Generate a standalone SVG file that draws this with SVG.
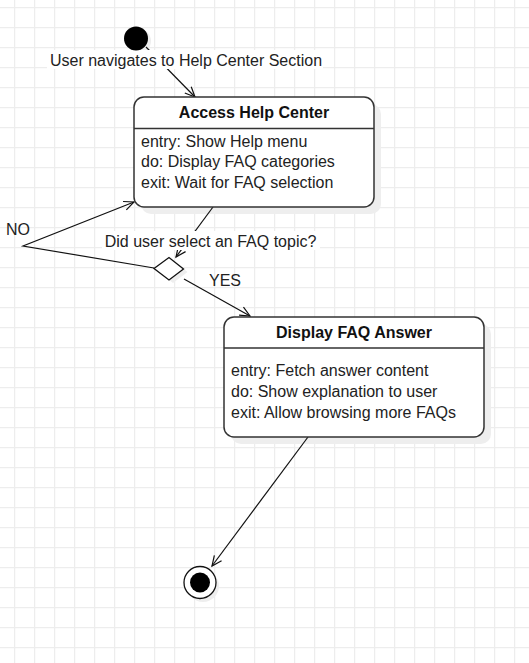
<svg xmlns="http://www.w3.org/2000/svg" width="529" height="663" viewBox="0 0 529 663">
<defs>
<pattern id="grid" x="14" y="7" width="20" height="20" patternUnits="userSpaceOnUse">
<path d="M0.5 0V20M0 0.5H20" stroke="#ededed" stroke-width="1.5" fill="none"/>
</pattern>
<marker id="arr" markerWidth="14" markerHeight="14" refX="12" refY="7" orient="auto" markerUnits="userSpaceOnUse">
<path d="M2 2.5L12 7L2 11.5" fill="none" stroke="#111" stroke-width="1.2"/>
</marker>
</defs>
<style>
.t{font-family:"Liberation Sans",Arial,sans-serif;font-size:16px;fill:#222}
.b{font-weight:bold;fill:#111}
.box{fill:#fff;stroke:#333;stroke-width:1.5}
.sh{fill:#eeeeee}
.c{fill:none;stroke:#111;stroke-width:1.2}
.bg{fill:#fff}
</style>
<rect width="529" height="663" fill="#fff"/>
<rect width="529" height="663" fill="url(#grid)"/>

<g id="shadows">
<circle class="sh" cx="139" cy="41" r="12"/>
<rect class="sh" x="141" y="104" width="240" height="110" rx="10"/>
<polygon class="sh" points="158,271.5 173,260.5 187.5,272 173,283"/>
<rect class="sh" x="231" y="324" width="260" height="120" rx="10"/>
<circle class="sh" cx="203" cy="586" r="16"/>
</g>

<g id="connectors">
<line class="c" x1="146" y1="47" x2="195" y2="97" marker-end="url(#arr)"/>
<rect class="bg" x="47" y="50" width="276" height="19"/>
<text class="t" x="186" y="66" text-anchor="middle">User navigates to Help Center Section</text>

<line class="c" x1="213" y1="207" x2="176" y2="257" marker-end="url(#arr)"/>
<rect class="bg" x="102" y="231" width="218" height="19"/>
<text class="t" x="210.5" y="247" text-anchor="middle">Did user select an FAQ topic?</text>

<polyline class="c" points="154,268 23,246 134,202" marker-end="url(#arr)"/>
<text class="t" x="6" y="235">NO</text>

<line class="c" x1="184" y1="279" x2="250" y2="316" marker-end="url(#arr)"/>
<text class="t" x="209" y="286">YES</text>

<line class="c" x1="308" y1="437" x2="212" y2="566" marker-end="url(#arr)"/>
</g>

<g id="start">
<circle cx="136" cy="38.5" r="12" fill="#000"/>
</g>

<g id="access-help-center">
<rect class="box" x="134" y="97" width="240" height="110" rx="10"/>
<line x1="134" y1="128.5" x2="374" y2="128.5" stroke="#333" stroke-width="1.5"/>
<text class="t b" x="254" y="118" text-anchor="middle">Access Help Center</text>
<text class="t" x="141" y="146.5">entry: Show Help menu</text>
<text class="t" x="141" y="167">do: Display FAQ categories</text>
<text class="t" x="141" y="188">exit: Wait for FAQ selection</text>
</g>

<g id="decision">
<polygon points="154,268.5 169,257.5 183.5,269 169,280" fill="#fff" stroke="#111" stroke-width="1.3"/>
</g>

<g id="display-faq-answer">
<rect class="box" x="224" y="317" width="260" height="120" rx="10"/>
<line x1="224" y1="348" x2="484" y2="348" stroke="#333" stroke-width="1.5"/>
<text class="t b" x="354" y="338" text-anchor="middle">Display FAQ Answer</text>
<text class="t" x="231" y="376">entry: Fetch answer content</text>
<text class="t" x="231" y="397">do: Show explanation to user</text>
<text class="t" x="231" y="418">exit: Allow browsing more FAQs</text>
</g>

<g id="end">
<circle cx="200" cy="582.5" r="16" fill="#fff" stroke="#111" stroke-width="1.3"/>
<circle cx="200" cy="582.5" r="10" fill="#000"/>
</g>
</svg>
